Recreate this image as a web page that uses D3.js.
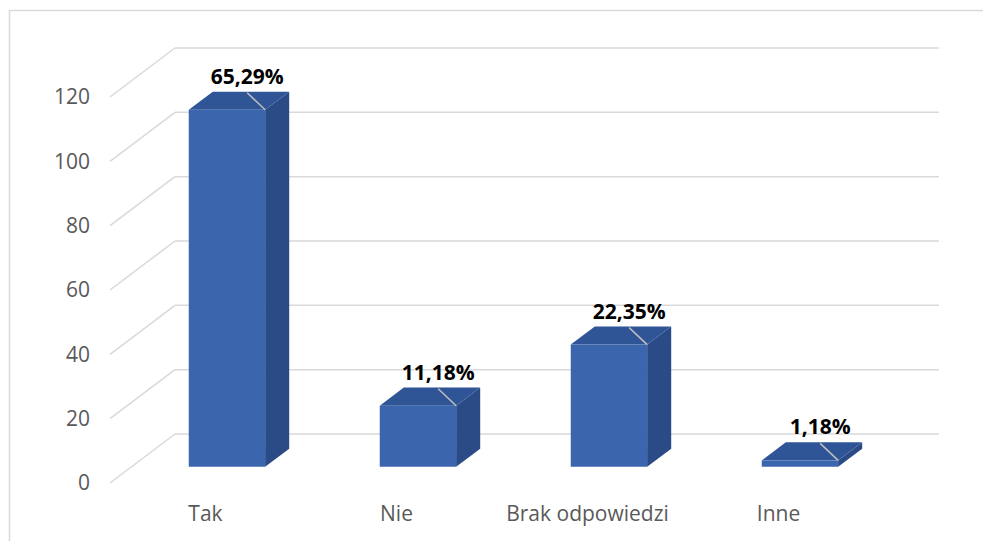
<!DOCTYPE html>
<html>
<head>
<meta charset="utf-8">
<script src="https://cdn.jsdelivr.net/npm/d3@7"></script>
<style>
  body { margin: 0; background: #fff; }
  svg { display: block; }
</style>
</head>
<body>
<div id="chart"></div>
<script>
// data (counts, total 170)
const categories = ['Tak', 'Nie', 'Brak odpowiedzi', 'Inne'];
const counts = [111, 19, 38, 2];
const pctLabels = ['65,29%', '11,18%', '22,35%', '1,18%'];
const yTicks = [0, 20, 40, 60, 80, 100, 120];

const W = 983, H = 541;
const depth = {dx: 65, dy: 49};   // floor depth in px
const barZ = [0.33, 0.70];       // bar sits in the middle of the depth

let svg = d3.select('#chart')
  .append('svg')
    .attr('width', W)
    .attr('height', H);

// chart frame (right and bottom edges run off the picture)
svg.append('rect')
  .attr('x', 9.5).attr('y', 10.5)
  .attr('width', 1000).attr('height', 600)
  .attr('fill', '#fff')
  .attr('stroke', '#d9d9d9')
  .attr('stroke-width', 1.5);

let x = d3.scaleBand()
  .domain(categories)
  .range([110, 874])
  .paddingInner(0.6)
  .paddingOuter(0.3);

let y = d3.scaleLinear()
  .domain([0, 120])
  .range([483, 97]);

// project a front-plane point back by z (0 = front, 1 = back wall)
let proj = (px, v, z) => [px + z * depth.dx, y(v) - z * depth.dy];

// gridlines: back wall + diagonal on the left side wall
let grid = svg.append('g').attr('id', 'grid');
yTicks.forEach(t => {
  let f = proj(110, t, 0), b = proj(110, t, 1);
  grid.append('line')
    .attr('x1', f[0]).attr('y1', f[1])
    .attr('x2', b[0]).attr('y2', b[1])
    .attr('stroke', '#d9d9d9').attr('stroke-width', 1.5);
  grid.append('line')
    .attr('x1', b[0]).attr('y1', b[1])
    .attr('x2', 939).attr('y2', b[1])
    .attr('stroke', '#d9d9d9').attr('stroke-width', 1.5);
});

// y axis labels
let yAxis = svg.append('g')
  .attr('transform', 'translate(110,0)')
  .call(d3.axisLeft(y).tickValues(yTicks).tickSize(0).tickPadding(20));
yAxis.select('.domain').remove();
yAxis.selectAll('text')
  .attr('fill', '#595959')
  .style('font-family', '"Open Sans", sans-serif')
  .style('font-size', '21px');

// x axis labels
let xAxis = svg.append('g')
  .attr('transform', 'translate(0,483)')
  .call(d3.axisBottom(x).tickSize(0).tickPadding(23));
xAxis.select('.domain').remove();
xAxis.selectAll('text')
  .attr('fill', '#595959')
  .style('font-family', '"Open Sans", sans-serif')
  .style('font-size', '21px');

// 3D bars
let bars = svg.append('g').attr('id', 'bars');
let data = categories.map((c, i) => ({cat: c, v: counts[i], label: pctLabels[i]}));

data.forEach(d => {
  let x0 = x(d.cat), x1 = x(d.cat) + x.bandwidth();
  let z0 = barZ[0], z1 = barZ[1];
  let fbl = proj(x0, 0, z0), fbr = proj(x1, 0, z0);
  let ftl = proj(x0, d.v, z0), ftr = proj(x1, d.v, z0);
  let btl = proj(x0, d.v, z1), btr = proj(x1, d.v, z1), bbr = proj(x1, 0, z1);

  let g = bars.append('g').attr('class', 'bar');
  // right side
  g.append('path')
    .attr('d', d3.line()([fbr, ftr, btr, bbr]) + 'Z')
    .attr('fill', '#2a4b85');
  // top
  g.append('path')
    .attr('d', d3.line()([ftl, ftr, btr, btl]) + 'Z')
    .attr('fill', '#2f5597');
  // front
  g.append('path')
    .attr('d', d3.line()([fbl, fbr, ftr, ftl]) + 'Z')
    .attr('fill', '#3b66ae');

  // leader line + label
  g.append('line')
    .attr('x1', ftr[0] - 18).attr('y1', ftr[1] - 17)
    .attr('x2', ftr[0]).attr('y2', ftr[1])
    .attr('stroke', '#bfbfbf').attr('stroke-width', 1.5);
  g.append('text')
    .attr('x', ftr[0] - 18)
    .attr('y', ftr[1] - 26)
    .attr('text-anchor', 'middle')
    .style('font-family', '"Open Sans", sans-serif')
    .style('font-size', '21px')
    .style('font-weight', 'bold')
    .attr('fill', '#000')
    .text(d.label);
});
</script>
</body>
</html>
